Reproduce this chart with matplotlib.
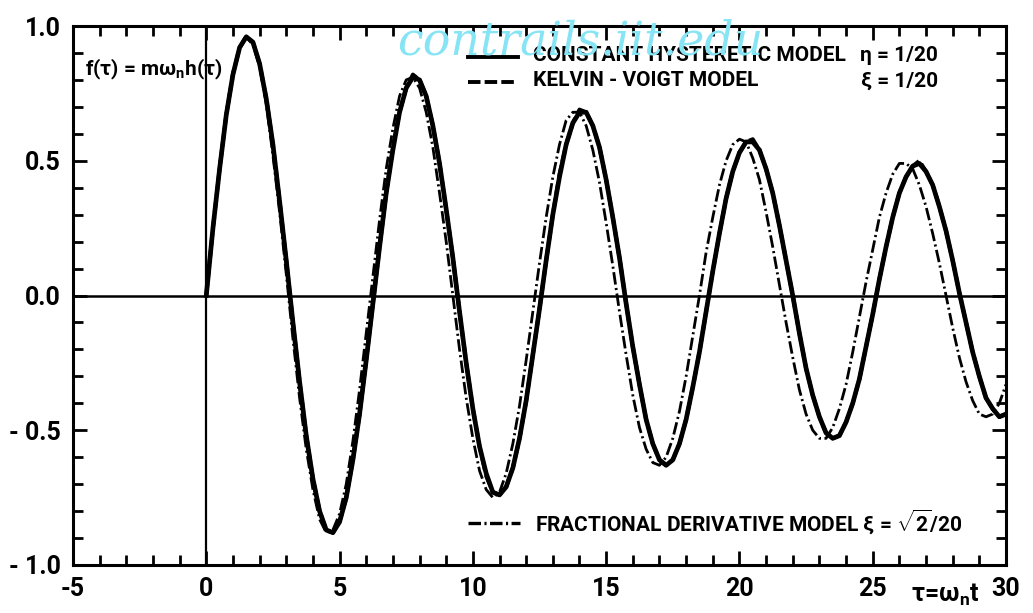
import matplotlib.pyplot as plt
from matplotlib.ticker import MultipleLocator

# sampling grid in tau = omega_n * t (values every 0.25)
tau = [k / 4 for k in range(121)]

# constant hysteretic model, eta = 1/20 (thick solid curve)
hyst = [
    0.00, 0.25, 0.47, 0.67, 0.82, 0.92, 0.96, 0.94,
    0.86, 0.73, 0.56, 0.35, 0.13, -0.10, -0.32, -0.52,
    -0.68, -0.80, -0.87, -0.88, -0.84, -0.75, -0.61, -0.44,
    -0.24, -0.03, 0.18, 0.38, 0.54, 0.68, 0.77, 0.81,
    0.80, 0.74, 0.63, 0.49, 0.32, 0.14, -0.06, -0.25,
    -0.42, -0.56, -0.66, -0.73, -0.74, -0.71, -0.64, -0.53,
    -0.39, -0.22, -0.05, 0.13, 0.30, 0.44, 0.56, 0.64,
    0.68, 0.68, 0.63, 0.55, 0.43, 0.29, 0.14, -0.03,
    -0.19, -0.33, -0.46, -0.55, -0.61, -0.63, -0.61, -0.55,
    -0.46, -0.34, -0.21, -0.06, 0.09, 0.23, 0.36, 0.46,
    0.53, 0.57, 0.57, 0.54, 0.47, 0.38, 0.26, 0.13,
    0.00, -0.14, -0.27, -0.37, -0.45, -0.51, -0.53, -0.52,
    -0.47, -0.40, -0.31, -0.19, -0.07, 0.06, 0.18, 0.29,
    0.38, 0.44, 0.48, 0.49, 0.46, 0.41, 0.33, 0.24,
    0.13, 0.01, -0.10, -0.21, -0.30, -0.38, -0.42, -0.45,
    -0.44,
]

# Kelvin-Voigt model, xi = 1/20 (dashed, lies on top of the hysteretic curve)
kelvin = [
    0.00, 0.25, 0.47, 0.67, 0.82, 0.92, 0.96, 0.94,
    0.86, 0.73, 0.56, 0.35, 0.13, -0.10, -0.32, -0.52,
    -0.68, -0.80, -0.87, -0.88, -0.84, -0.75, -0.61, -0.44,
    -0.24, -0.03, 0.18, 0.38, 0.55, 0.68, 0.77, 0.82,
    0.80, 0.74, 0.63, 0.49, 0.32, 0.14, -0.06, -0.25,
    -0.42, -0.56, -0.67, -0.73, -0.74, -0.71, -0.64, -0.53,
    -0.39, -0.22, -0.05, 0.13, 0.30, 0.45, 0.56, 0.64,
    0.69, 0.68, 0.63, 0.55, 0.43, 0.29, 0.14, -0.03,
    -0.19, -0.33, -0.46, -0.55, -0.61, -0.63, -0.61, -0.55,
    -0.46, -0.34, -0.21, -0.06, 0.09, 0.23, 0.36, 0.46,
    0.53, 0.57, 0.58, 0.54, 0.47, 0.38, 0.26, 0.13,
    0.00, -0.14, -0.27, -0.37, -0.45, -0.51, -0.53, -0.52,
    -0.47, -0.40, -0.31, -0.19, -0.07, 0.06, 0.18, 0.29,
    0.38, 0.44, 0.48, 0.50, 0.46, 0.41, 0.33, 0.24,
    0.13, 0.01, -0.10, -0.21, -0.30, -0.38, -0.42, -0.45,
    -0.44,
]

# fractional derivative model, xi = sqrt(2)/20 (dash-dot, slightly faster)
frac = [
    0.00, 0.25, 0.48, 0.68, 0.83, 0.92, 0.96, 0.93,
    0.85, 0.71, 0.52, 0.31, 0.08, -0.16, -0.38, -0.57,
    -0.72, -0.83, -0.88, -0.87, -0.81, -0.70, -0.54, -0.35,
    -0.14, 0.07, 0.28, 0.47, 0.62, 0.74, 0.80, 0.81,
    0.77, 0.68, 0.55, 0.38, 0.20, 0.00, -0.20, -0.38,
    -0.53, -0.65, -0.72, -0.75, -0.73, -0.66, -0.55, -0.41,
    -0.24, -0.06, 0.12, 0.29, 0.44, 0.56, 0.65, 0.68,
    0.68, 0.63, 0.54, 0.42, 0.27, 0.11, -0.06, -0.22,
    -0.37, -0.49, -0.57, -0.62, -0.63, -0.60, -0.53, -0.43,
    -0.30, -0.15, 0.00, 0.16, 0.29, 0.41, 0.50, 0.56,
    0.58, 0.57, 0.51, 0.43, 0.31, 0.18, 0.04, -0.10,
    -0.23, -0.35, -0.44, -0.50, -0.53, -0.53, -0.49, -0.42,
    -0.33, -0.21, -0.08, 0.05, 0.17, 0.29, 0.38, 0.45,
    0.49, 0.49, 0.47, 0.41, 0.33, 0.23, 0.12, 0.00,
    -0.12, -0.23, -0.32, -0.39, -0.44, -0.45, -0.44, -0.40,
    -0.33,
]

x_ticks = [-5, 0, 5, 10, 15, 20, 25, 30]
x_labels = ["-5", "0", "5", "10", "15", "20", "25", "30"]
y_ticks = [-1.0, -0.5, 0.0, 0.5, 1.0]
y_labels = ["- 1.0", "- 0.5", "0.0", "0.5", "1.0"]

plt.rcParams["font.family"] = ["Roboto", "DejaVu Sans"]
plt.rcParams["font.weight"] = "bold"
plt.rcParams["mathtext.fontset"] = "custom"
plt.rcParams["mathtext.rm"] = "Roboto:bold"
plt.rcParams["mathtext.it"] = "Roboto:bold"
plt.rcParams["mathtext.bf"] = "Roboto:bold"
plt.rcParams["lines.scale_dashes"] = False

W, H = 1033, 613
fig = plt.figure(figsize=(W / 100, H / 100), dpi=100)
ax = fig.add_axes([73 / W, 1 - 565 / H, (1006 - 73) / W, (565 - 26) / H])
ax.set_xlim(-5, 30)
ax.set_ylim(-1, 1)

# curves
ax.plot(tau, hyst, color="black", lw=3.4, zorder=3)
ax.plot(tau, kelvin, color="black", lw=2.8, dashes=(9, 3), zorder=3)
ax.plot(tau, frac, color="black", lw=2.0, dashes=(9, 2.5, 1.5, 2.5), zorder=3)

# reference lines
ax.axhline(0, color="black", lw=1.8, zorder=2)
ax.axvline(0, color="black", lw=1.6, zorder=2)

for s in ax.spines.values():
    s.set_linewidth(2.2)

ax.set_xticks(x_ticks, x_labels)
ax.xaxis.set_minor_locator(MultipleLocator(1))
ax.set_yticks(y_ticks, y_labels)
ax.yaxis.set_minor_locator(MultipleLocator(0.1))
ax.tick_params(which="both", direction="in", top=True, right=True, width=2.0)
ax.tick_params(which="major", length=10, labelsize=18, pad=9)
ax.tick_params(which="minor", length=7)

# legend, drawn by hand like the original
lab = dict(fontsize=15, fontweight="bold", va="center", color="black")
ax.plot([9.82, 11.70], [0.885, 0.885], color="black", lw=2.8)
ax.text(12.25, 0.889, "CONSTANT HYSTERETIC MODEL", **lab)
ax.text(27.45, 0.889, "η = 1/20", ha="right", **lab)
ax.plot([9.82, 11.70], [0.792, 0.792], color="black", lw=2.8, dashes=(9, 3))
ax.text(12.25, 0.796, "KELVIN - VOIGT MODEL", **lab)
ax.text(27.45, 0.796, "ξ = 1/20", ha="right", **lab)
ax.plot([9.82, 11.75], [-0.844, -0.844], color="black", lw=2.4,
        dashes=(9, 2.5, 1.5, 2.5))
ax.text(12.33, -0.840, r"FRACTIONAL DERIVATIVE MODEL ξ = $\sqrt{2}$/20", **lab)

ax.text(-4.55, 0.837, r"f(τ) = mω$_\mathrm{n}$h(τ)", fontsize=15,
        fontweight="bold", va="center")

fig.text(945 / W, 1 - 595 / H, r"τ=ω$_\mathrm{n}$t", fontsize=18,
         fontweight="bold", ha="center", va="center")

# scan watermark
fig.text(580 / W, 1 - 42 / H, "contrails.iit.edu", color="#86e4f4",
         fontsize=33, family="DejaVu Serif", style="italic",
         fontweight="normal", ha="center", va="center", zorder=10)

fig.savefig("out.png", dpi=100)
